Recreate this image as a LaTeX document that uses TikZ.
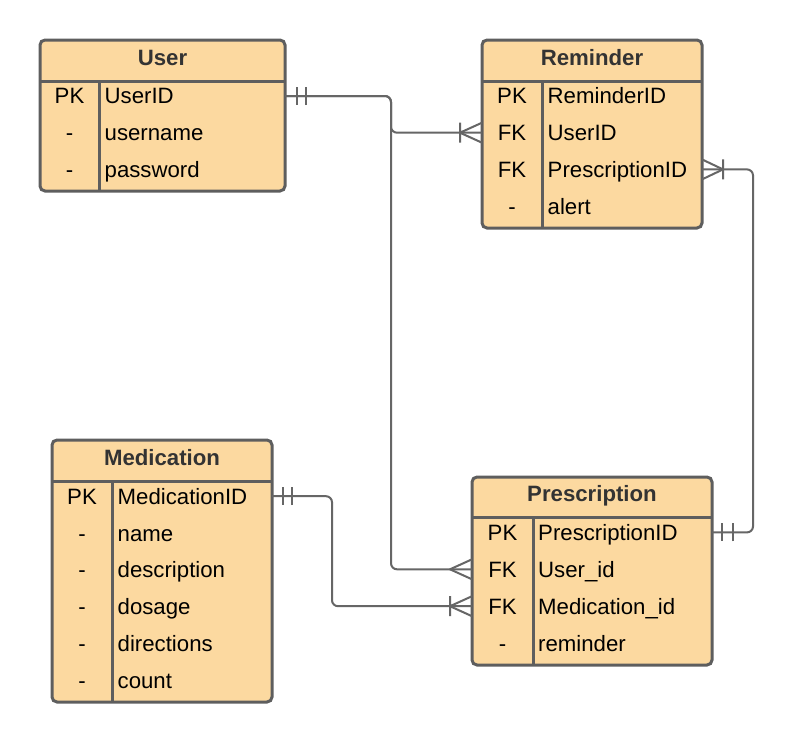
\documentclass[tikz,border=0pt]{standalone}
\usepackage{fontspec}
\setmainfont{Liberation Sans}
\usetikzlibrary{calc}
\definecolor{tblfill}{RGB}{252,217,160}
\definecolor{tblgray}{RGB}{94,94,94}
\definecolor{relgray}{RGB}{102,102,102}
\definecolor{titlegray}{RGB}{51,51,51}
\newcommand{\erfont}{\fontsize{22.2}{26}\selectfont}
\tikzset{
  tbl/.style={draw=tblgray, fill=tblfill, line width=3pt, rounded corners=5pt, outer sep=0pt, inner sep=0pt},
  tblrule/.style={draw=tblgray, line width=3pt},
  tbltitle/.style={font=\erfont\bfseries, text=titlegray, inner sep=0pt, text height=15.9pt, text depth=0pt},
  keycell/.style={font=\erfont, inner sep=0pt, text height=15.9pt, text depth=0pt},
  fieldcell/.style={keycell, anchor=west},
  relation/.style={draw=relgray, line width=2pt, rounded corners=6pt},
  cardinality/.style={draw=relgray, line width=2pt, line join=round}
}
\begin{document}
\begin{tikzpicture}[x=1pt, y=-1pt]
        \fill[white] (0,0) rectangle (794,742);
        \useasboundingbox (0,0) rectangle (794,742);
        % User
        \node[tbl, minimum width=245pt, minimum height=151pt, anchor=north west] (user) at (40,40) {};
        \draw[tblrule] (user.west |- 0,81) -- (user.east |- 0,81);
        \draw[tblrule] (99,81) -- (99,191);
        \node[tbltitle] (user-title) at (162.5,57.5) {User};
        \foreach \k/\f [count=\i] in {PK/UserID, -/username, -/password} {
            \node[keycell] (user-k\i) at (69.5, {59.3+36.7*\i}) {\k};
            \node[fieldcell] (user-\i) at (104.5, {59.3+36.7*\i}) {\f};
        }
        % Reminder
        \node[tbl, minimum width=220pt, minimum height=188pt, anchor=north west] (reminder) at (482,40) {};
        \draw[tblrule] (reminder.west |- 0,81) -- (reminder.east |- 0,81);
        \draw[tblrule] (542,81) -- (542,228);
        \node[tbltitle] (reminder-title) at (592,57.5) {Reminder};
        \foreach \k/\f [count=\i] in {PK/ReminderID, FK/UserID, FK/PrescriptionID, -/alert} {
            \node[keycell] (reminder-k\i) at (512, {59.3+36.7*\i}) {\k};
            \node[fieldcell] (reminder-\i) at (547.5, {59.3+36.7*\i}) {\f};
        }
        % Medication
        \node[tbl, minimum width=220pt, minimum height=262pt, anchor=north west] (medication) at (52,440) {};
        \draw[tblrule] (medication.west |- 0,481) -- (medication.east |- 0,481);
        \draw[tblrule] (112,481) -- (112,702);
        \node[tbltitle] (medication-title) at (162,457.5) {Medication};
        \foreach \k/\f [count=\i] in {PK/MedicationID, -/name, -/description, -/dosage, -/directions, -/count} {
            \node[keycell] (medication-k\i) at (82, {459.3+36.9*\i}) {\k};
            \node[fieldcell] (medication-\i) at (117.5, {459.3+36.9*\i}) {\f};
        }
        % Prescription
        \node[tbl, minimum width=240pt, minimum height=188pt, anchor=north west] (prescription) at (472,477) {};
        \draw[tblrule] (prescription.west |- 0,517) -- (prescription.east |- 0,517);
        \draw[tblrule] (533,517) -- (533,665);
        \node[tbltitle] (prescription-title) at (592,494) {Prescription};
        \foreach \k/\f [count=\i] in {PK/PrescriptionID, FK/User\_id, FK/Medication\_id, -/reminder} {
            \node[keycell] (prescription-k\i) at (502.5, {495.5+36.9*\i}) {\k};
            \node[fieldcell] (prescription-\i) at (538, {495.5+36.9*\i}) {\f};
        }
        % relation ends
        \coordinate (u-pk) at (user.east |- user-1);
        \coordinate (r-fku) at (reminder.west |- reminder-2);
        \coordinate (r-fkp) at (reminder.east |- reminder-3);
        \coordinate (m-pk) at (medication.east |- medication-1);
        \coordinate (p-pk) at (prescription.east |- prescription-1);
        \coordinate (p-fku) at (prescription.west |- prescription-2);
        \coordinate (p-fkm) at (prescription.west |- prescription-3);
        \coordinate (ujoin) at (391,0);
        \coordinate (mjoin) at (332,0);
        \coordinate (pjoin) at (753,0);
        \draw[relation] (u-pk) -| (ujoin |- r-fku) -- (r-fku);
        \draw[relation] (u-pk) -| (ujoin |- p-fku) -- (p-fku);
        \draw[relation] (m-pk) -| (mjoin |- p-fkm) -- (p-fkm);
        \draw[relation] (p-pk) -| (pjoin |- r-fkp) -- (r-fkp);
        % one
        \draw[cardinality] (u-pk) ++(12,-9) -- ++(0,18) ++(9,0) -- ++(0,-18);
        \draw[cardinality] (m-pk) ++(11,-9) -- ++(0,18) ++(9,0) -- ++(0,-18);
        \draw[cardinality] (p-pk) ++(10,-9) -- ++(0,18) ++(11,0) -- ++(0,-18);
        % many
        \draw[cardinality] (r-fku) ++(0,-10) -- ++(-22,10) -- ++(22,10) ++(-22,0) -- ++(0,-20);
        \draw[cardinality] (p-fku) ++(0,-10) -- ++(-22,10) -- ++(22,10);
        \draw[cardinality] (p-fkm) ++(0,-10) -- ++(-22,10) -- ++(22,10) ++(-22,0) -- ++(0,-20);
        \draw[cardinality] (r-fkp) ++(0,-10) -- ++(21,10) -- ++(-21,10) ++(21,0) -- ++(0,-20);
    \end{tikzpicture}
\end{document}
